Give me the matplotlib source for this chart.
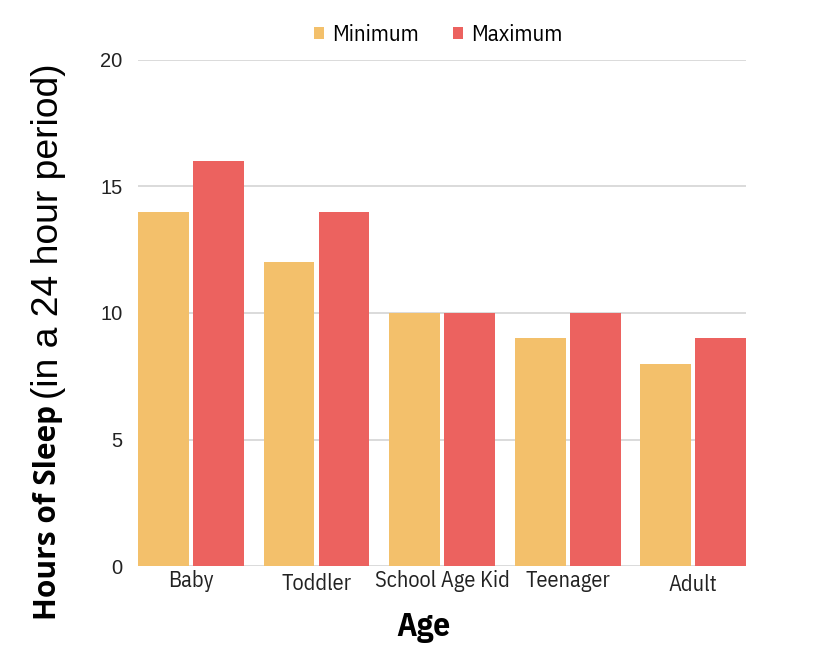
import matplotlib
matplotlib.use("Agg")
import matplotlib.pyplot as plt
from matplotlib.transforms import ScaledTranslation
import numpy as np

categories = ["Baby", "Toddler", "School Age Kid", "Teenager", "Adult"]
minimum = [14, 12, 10, 9, 8]
maximum = [16, 14, 10, 10, 9]
yticks = [0, 5, 10, 15, 20]

COND = ['IBM Plex Sans Condensed', 'DejaVu Sans']
plt.rcParams['font.family'] = COND

fig = plt.figure(figsize=(8.22, 6.62), dpi=100)
ax = fig.add_axes([0.1679, 0.145, 0.7397, 0.7644])

x = np.arange(len(categories))
w = 0.406
gap = 0.016
ax.bar(x - w/2 - gap, minimum, w, color="#F3C06B", label="Minimum", zorder=3)
ax.bar(x + w/2 + gap, maximum, w, color="#EC625F", label="Maximum", zorder=3)

ax.set_xlim(-w - gap, len(categories) - 1 + w + gap)
ax.set_ylim(0, 20)
ax.set_yticks(yticks)
ax.set_yticklabels([str(v) for v in yticks], fontsize=14.5, color="#222222",
                   family=['Liberation Sans', 'DejaVu Sans'])
ax.set_xticks(x)
ax.set_xticklabels(categories, fontsize=16, color="#222222")
ax.tick_params(axis='both', length=0)
ax.tick_params(axis='y', pad=11)
ax.tick_params(axis='x', pad=3)
# slight individual vertical label offsets as in the reference
offs = [0, -3, 0, 0, -4]
for lab, dy in zip(ax.get_xticklabels(), offs):
    lab.set_transform(lab.get_transform() + ScaledTranslation(0, dy / 100, fig.dpi_scale_trans))
for s in ax.spines.values():
    s.set_visible(False)
ax.grid(axis='y', color="#dadada", linewidth=1.4, zorder=0)
ax.set_axisbelow(True)

fig.text(423 / 822, 1 - 627 / 662, "Age", fontsize=24, fontweight='bold', ha='center', va='center',
         color="black")

leg = fig.legend(loc='upper center', bbox_to_anchor=(0.533, 0.995), ncol=2, frameon=False,
                 fontsize=16.5, handlelength=0.45, handleheight=0.45, columnspacing=1.5,
                 handletextpad=0.35)

# two-part y label, fitted to the reference lengths
fig.canvas.draw()
r = fig.canvas.get_renderer()
H = fig.bbox.height
xpos = 0.059

def fit(text, target, **kw):
    t = fig.text(xpos, 0.5, text, rotation=90, fontsize=20, ha='center', va='bottom', **kw)
    L = t.get_window_extent(r).height
    t.set_fontsize(20 * target / L)
    return t

t1 = fit("Hours of Sleep", 215, fontweight='bold', family=['Open Sans', 'DejaVu Sans'])
t1.set_y(42 / H)
bb = t1.get_window_extent(r)
t2 = fit("(in a 24 hour period)", 335, family=['Liberation Sans', 'DejaVu Sans'])
t2.set_y((bb.y1 + 6) / H)

fig.savefig("out.png", dpi=100)
